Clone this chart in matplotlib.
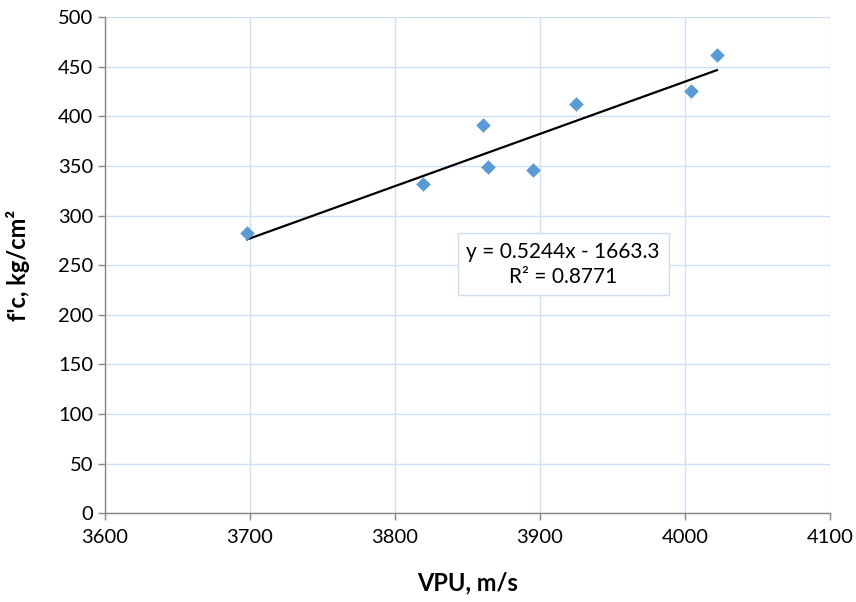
import numpy as np
import matplotlib.pyplot as plt

# VPU (m/s) vs compressive strength f'c (kg/cm2)
vpu = [3698, 3819, 3861, 3864, 3895, 3925, 4004, 4022]
fc = [282, 332, 391, 349, 346, 412, 425, 462]

plt.rcParams['font.family'] = ['Lato', 'DejaVu Sans']

fig = plt.figure(figsize=(8.56, 6.02), dpi=100)
ax = fig.add_axes([0.1227, 0.1473, 0.8469, 0.8245])

ax.scatter(vpu, fc, marker='D', s=55, color='#5b9bd5', zorder=3, linewidths=0)

# linear trendline
m, b = np.polyfit(vpu, fc, 1)
xl = np.array([min(vpu), max(vpu)])
ax.plot(xl, m * xl + b, color='black', lw=1.6, zorder=2)

ax.set_xlim(3600, 4100)
ax.set_ylim(0, 500)
ax.set_xticks(np.arange(3600, 4101, 100))
ax.set_yticks(np.arange(0, 501, 50))
ax.grid(True, color='#d0e0f2', lw=1)
ax.set_axisbelow(True)

for s in ['top', 'right']:
    ax.spines[s].set_visible(False)
for s in ['left', 'bottom']:
    ax.spines[s].set_color('#868686')
    ax.spines[s].set_linewidth(1)
ax.tick_params(axis='both', colors='#868686', length=5, width=1, labelsize=14.5,
               labelcolor='black')
ax.tick_params(axis='x', pad=6)

ax.set_xlabel('VPU, m/s', fontsize=17, fontweight='bold')
ax.set_ylabel('f\'c, kg/cm²', fontsize=17, fontweight='bold')
ax.xaxis.set_label_coords(0.5, -0.118)
ax.yaxis.set_label_coords(-0.103, 0.5)

ax.text(3916, 251, 'y = 0.5244x - 1663.3\nR² = 0.8771', fontsize=15,
        ha='center', va='center', linespacing=1.3,
        bbox=dict(boxstyle='square,pad=0.42', fc='white', ec='#d0dcea', lw=1))

fig.savefig('out.png', dpi=100)
